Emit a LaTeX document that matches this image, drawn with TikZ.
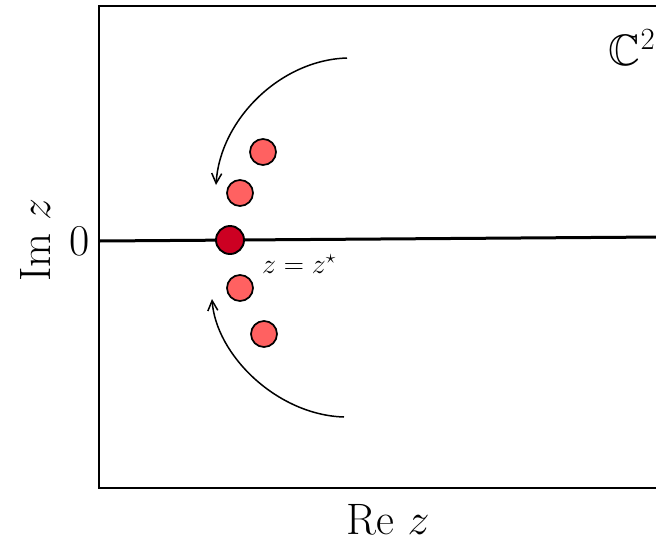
\documentclass[tikz,border=0pt]{standalone}
\usepackage{amssymb}
\usepackage{fix-cm}
\usetikzlibrary{arrows.meta}
\definecolor{dotlight}{HTML}{FF6161}
\definecolor{dotdark}{HTML}{CC0022}
\tikzset{
  frameline/.style={line width=2.8pt, line cap=rect},
  axisline/.style={line width=3pt},
  dotl/.style={circle, draw=black, line width=1.7pt, fill=dotlight, minimum size=26pt, inner sep=0pt},
  dotd/.style={circle, draw=black, line width=1.9pt, fill=dotdark, minimum size=28pt, inner sep=0pt},
  flow/.style={line width=1.5pt, -{Straight Barb[length=10pt,width=10pt,line width=1.5pt]}},
  biglabel/.style={inner sep=0pt, font=\fontsize{44}{52}\selectfont},
  smalllabel/.style={inner sep=0pt, font=\fontsize{28}{34}\selectfont}
}
\begin{document}
\begin{tikzpicture}[x=1pt,y=1pt]
\useasboundingbox (0,0) rectangle (656,-542);
% frame
\coordinate (tr) at (660,-6);
\coordinate (tl) at (99,-6);
\coordinate (bl) at (99,-488);
\coordinate (br) at (660,-488);
\draw[frameline] (tr) -- (tl) -- (bl) -- (br);
% real axis
\coordinate (axL) at (99,-241);
\coordinate (axR) at (660,-237);
\draw[axisline] (axL) -- (axR);
% dots
\node[dotl] (d1) at (263,-152) {};
\node[dotl] (d2) at (240,-193) {};
\node[dotd] (d0) at (230,-240) {};
\node[dotl] (d3) at (240,-288) {};
\node[dotl] (d4) at (264,-334) {};
% flow arrows
\coordinate (uA) at (347,-58);
\coordinate (uB) at (216,-185);
\coordinate (lA) at (344,-417);
\coordinate (lB) at (212,-299);
\draw[flow] (uA) .. controls (280,-60) and (220,-120) .. (uB);
\draw[flow] (lA) .. controls (277,-415) and (216,-355) .. (lB);
% labels
\node[biglabel] (re) at (388,-520) {Re $z$};
\node[biglabel, rotate=90] (im) at (35,-240) {Im $z$};
\node[biglabel] (zero) at (80,-241) {0};
\node[biglabel] (c2) at (632,-48) {$\mathbb{C}^2$};
\node[smalllabel] (fix) at (299,-264) {$z=z^{\star}$};
\end{tikzpicture}
\end{document}
